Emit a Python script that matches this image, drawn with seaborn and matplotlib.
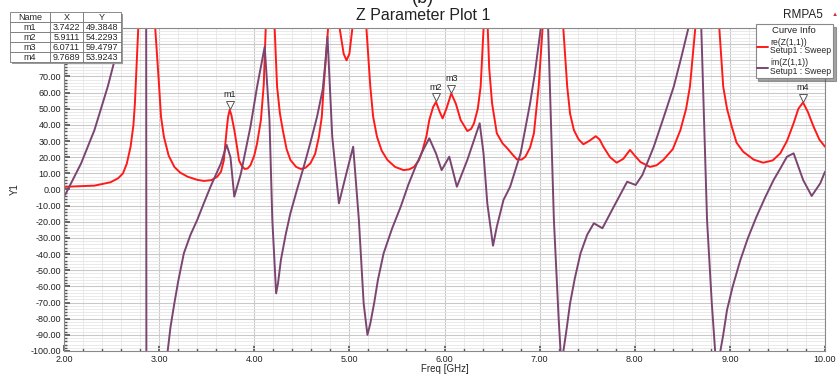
import numpy as np
import pandas as pd
import seaborn as sns
import matplotlib.pyplot as plt
import matplotlib.transforms as mtransforms
from matplotlib.ticker import MultipleLocator, FormatStrFormatter
from matplotlib.lines import Line2D
from matplotlib.patches import Rectangle

# re(Z(1,1)) (values above 100 are clipped peaks)
freq_re = [2.00, 2.02, 2.32, 2.49, 2.57, 2.62, 2.66, 2.70, 2.73, 2.745, 2.78, 2.86,
           2.96, 3.00, 3.02, 3.05, 3.10, 3.16, 3.22, 3.30, 3.40, 3.47, 3.55, 3.61, 3.65,
           3.68, 3.71, 3.725, 3.742, 3.76, 3.79, 3.82, 3.84, 3.87, 3.90, 3.93, 3.96, 4.00,
           4.03, 4.07, 4.10, 4.12, 4.16, 4.215, 4.24, 4.27, 4.30, 4.34, 4.38, 4.44, 4.49,
           4.54, 4.59, 4.64, 4.68, 4.71, 4.73, 4.775, 4.83, 4.90, 4.94, 4.97, 5.00, 5.03,
           5.10, 5.18, 5.22, 5.25, 5.29, 5.34, 5.40, 5.48, 5.57, 5.63, 5.68, 5.73, 5.77,
           5.81, 5.84, 5.88, 5.911, 5.95, 5.98, 6.02, 6.071, 6.12, 6.17, 6.24, 6.28, 6.31,
           6.35, 6.38, 6.41, 6.435, 6.455, 6.47, 6.50, 6.55, 6.61, 6.66, 6.71, 6.76, 6.81,
           6.85, 6.90, 6.94, 6.99, 7.03, 7.14, 7.25, 7.29, 7.32, 7.36, 7.41, 7.46, 7.52,
           7.59, 7.63, 7.67, 7.74, 7.81, 7.88, 7.95, 8.00, 8.06, 8.16, 8.23, 8.30, 8.40,
           8.48, 8.54, 8.58, 8.635, 8.76, 8.89, 8.93, 8.97, 9.02, 9.07, 9.14, 9.25, 9.35,
           9.45, 9.53, 9.60, 9.67, 9.72, 9.769, 9.82, 9.88, 9.94, 10.00]
re_z = [1.5, 1.7, 2.4, 4.5, 7.0, 10.0, 16.0, 26.5, 40.0, 53.0, 99.0, 400.0,
        99.0, 63.7, 45.0, 32.7, 21.0, 14.0, 10.5, 7.9, 6.0, 5.3, 5.8, 7.9, 11.0,
        18.0, 37.0, 45.0, 49.4, 46.0, 37.0, 26.0, 18.0, 14.5, 12.7, 13.0, 15.0, 21.0,
        28.6, 43.0, 65.0, 99.0, 400.0, 99.0, 63.7, 47.0, 36.8, 25.0, 18.3, 14.0, 12.7,
        13.5, 16.2, 22.0, 32.7, 45.0, 63.7, 99.0, 300.0, 99.0, 84.0, 80.0, 84.0, 99.0,
        300.0, 99.0, 63.7, 45.0, 32.7, 24.0, 18.3, 14.0, 12.0, 12.5, 14.0, 18.0, 24.5,
        33.0, 43.0, 51.0, 54.2, 48.0, 44.0, 50.0, 59.5, 53.0, 43.0, 36.2, 37.5, 41.0,
        50.0, 63.7, 99.0, 300.0, 99.0, 75.0, 53.4, 34.8, 28.6, 25.5, 22.0, 18.7, 18.5,
        20.3, 26.0, 34.8, 63.7, 99.0, 400.0, 99.0, 63.7, 47.0, 36.8, 31.0, 28.0, 30.0,
        33.0, 31.0, 26.5, 20.0, 16.6, 19.0, 24.5, 21.0, 17.0, 14.0, 15.0, 18.3, 25.0,
        36.8, 50.0, 63.7, 99.0, 400.0, 99.0, 63.7, 50.0, 38.9, 29.0, 23.4, 18.5, 16.6,
        18.0, 22.4, 30.0, 41.0, 50.0, 53.9, 48.0, 38.9, 31.0, 26.5]

# im(Z(1,1)) (values beyond +-100 are clipped)
freq_im = [2.00, 2.02, 2.18, 2.32, 2.46, 2.56, 2.60, 2.70, 2.86, 2.87, 2.98, 3.09, 3.12,
           3.16, 3.20, 3.26, 3.33, 3.40, 3.47, 3.54, 3.65, 3.71, 3.75, 3.79, 3.86, 3.96,
           4.03, 4.11, 4.16, 4.19, 4.23, 4.25, 4.28, 4.33, 4.38, 4.45, 4.52, 4.59, 4.66,
           4.72, 4.75, 4.77, 4.82, 4.89, 4.96, 5.04, 5.10, 5.15, 5.19, 5.22, 5.26, 5.30,
           5.36, 5.45, 5.54, 5.62, 5.71, 5.78, 5.84, 5.91, 5.97, 6.05, 6.13, 6.24, 6.37,
           6.41, 6.45, 6.51, 6.55, 6.62, 6.69, 6.80, 6.90, 6.95, 7.01, 7.035, 7.06, 7.09,
           7.15, 7.20, 7.235, 7.25, 7.28, 7.32, 7.37, 7.43, 7.50, 7.57, 7.66, 7.78, 7.92,
           8.01, 8.08, 8.20, 8.30, 8.41, 8.49, 8.56, 8.63, 8.70, 8.76, 8.81, 8.845, 8.87,
           8.90, 8.93, 8.97, 9.03, 9.11, 9.19, 9.28, 9.37, 9.46, 9.53, 9.60, 9.67, 9.77,
           9.86, 9.95, 10.00]
im_z = [-4.0, -2.4, 16.2, 36.8, 63.7, 86.4, 99.0, 200.0, 500.0, -500.0, -200.0, -100.0, -85.0,
        -70.5, -57.0, -39.5, -28.0, -18.9, -8.5, 1.7, 16.2, 27.6, 20.0, -4.4, 10.0, 38.9,
        63.7, 88.4, 43.0, -18.9, -64.3, -58.0, -43.7, -28.0, -14.7, 0.0, 14.0, 29.0, 45.0,
        62.0, 80.0, 94.6, 32.7, -8.6, 8.0, 26.5, -18.9, -70.5, -90.0, -83.0, -70.5, -56.0,
        -39.5, -24.0, -10.6, 3.0, 16.2, 25.0, 31.7, 22.4, 12.0, 20.3, 1.7, 18.3, 41.0,
        22.4, -8.6, -34.8, -23.0, -6.5, 1.7, 22.4, 53.4, 72.0, 99.0, 130.0, 150.0, 99.0,
        -18.9, -80.0, -115.0, -100.0, -88.0, -70.5, -55.0, -39.5, -28.0, -20.9, -24.0, -10.6, 4.8,
        2.8, 9.0, 26.5, 44.0, 63.7, 82.0, 99.0, 200.0, 99.0, -18.9, -70.5, -100.0, -115.0,
        -100.0, -90.0, -74.6, -60.0, -43.7, -30.0, -16.8, -5.0, 5.9, 13.0, 20.3, 22.4, 5.9,
        -4.0, 3.8, 11.0]

curve_names = ["re(Z(1,1))", "im(Z(1,1))"]
curve_colors = ["#ff1a1a", "#7a4570"]

marker_names = ["m1", "m2", "m3", "m4"]
marker_x = [3.7422, 5.9111, 6.0711, 9.7689]
marker_y = [49.3848, 54.2293, 59.4797, 53.9243]

df = pd.concat([
    pd.DataFrame({"Freq": freq_re, "Y1": re_z, "curve": curve_names[0]}),
    pd.DataFrame({"Freq": freq_im, "Y1": im_z, "curve": curve_names[1]}),
])

sns.set_theme(style="white")
plt.rcParams["font.family"] = ["Liberation Sans", "DejaVu Sans"]

fig = plt.figure(figsize=(8.4, 3.76), dpi=100)
ax = fig.add_axes([64 / 840, 1 - 351 / 376, 761 / 840, 323 / 376])

sns.lineplot(data=df, x="Freq", y="Y1", hue="curve", palette=curve_colors,
             estimator=None, sort=False, linewidth=1.4, ax=ax, legend=False)

ax.set_xlim(2, 10)
ax.set_ylim(-100, 100)
ax.xaxis.set_major_locator(MultipleLocator(1))
ax.xaxis.set_minor_locator(MultipleLocator(0.2))
ax.yaxis.set_major_locator(MultipleLocator(10))
ax.yaxis.set_minor_locator(MultipleLocator(2))
ax.xaxis.set_major_formatter(FormatStrFormatter("%.2f"))
ax.yaxis.set_major_formatter(FormatStrFormatter("%.2f"))
ax.grid(which="major", color="#c9c9c9", linewidth=0.8)
ax.grid(which="minor", color="#e6e6e6", linewidth=0.6)
ax.set_axisbelow(True)
ax.tick_params(which="both", direction="in", colors="#555555", labelcolor="#222222",
               labelsize=6.5, bottom=True, left=True)
ax.tick_params(axis="x", pad=3)
ax.tick_params(axis="y", pad=2)
ax.tick_params(which="major", length=4)
ax.tick_params(which="minor", length=2)
for s in ax.spines.values():
    s.set_color("#8a8a8a")
    s.set_linewidth(0.8)

ax.set_xlabel("Freq [GHz]", fontsize=7, labelpad=0)
ax.set_ylabel("Y1", fontsize=7, labelpad=8)

# markers on red curve
for name, mx, my in zip(marker_names, marker_x, marker_y):
    tr = mtransforms.offset_copy(ax.transData, fig=fig, x=0, y=3.5, units="points")
    ax.plot([mx], [my], marker="v", markersize=6, markerfacecolor="white",
            markeredgecolor="#555555", markeredgewidth=0.7, transform=tr, zorder=5)
    ax.annotate(name, xy=(mx, my), xytext=(0, 7.5), textcoords="offset points",
                ha="center", va="bottom", fontsize=6.5, color="#222222")

# titles
fig.text(423 / 840, 1 - 15 / 376, "Z Parameter Plot 1", ha="center", va="center", fontsize=11.5,
         color="#222222")
fig.text(423 / 840, 1 - 3 / 376, "(b)", ha="center", va="baseline", fontsize=13, color="#222222")
fig.text(803 / 840, 1 - 15 / 376, "RMPA5", ha="center", va="center", fontsize=8.5, color="#222222")
fig.text(835 / 840, 1 - 15 / 376, "\u25b2", ha="center", va="center", fontsize=4.5, color="#cc3333")

# legend box
handles = [Line2D([0], [0], color=c, lw=1.4) for c in curve_colors]
labels = [n + "\nSetup1 : Sweep" for n in curve_names]
leg = ax.legend(handles, labels, title="Curve Info", loc="upper right",
                bbox_to_anchor=(833 / 840, 1 - 24 / 376), bbox_transform=fig.transFigure,
                fontsize=6.2, title_fontsize=6.8, frameon=True, fancybox=False, shadow=True,
                borderpad=0.2, handlelength=1.3, handletextpad=0.2, labelspacing=0.35,
                borderaxespad=0)
for t in leg.get_texts():
    t.set_linespacing(0.95)
leg.get_title().set_color("#222222")
leg.get_frame().set_edgecolor("#888888")
leg.get_frame().set_linewidth(0.8)
leg.set_zorder(10)

# marker table
fig.patches.append(Rectangle((12 / 840, 1 - 64 / 376), 111 / 840, 50 / 376,
                             transform=fig.transFigure, facecolor="#9a9a9a", edgecolor="none",
                             zorder=8))
tax = fig.add_axes([10 / 840, 1 - 62 / 376, 111 / 840, 50 / 376], zorder=9)
tax.axis("off")
cells = [[n, f"{x:.4f}", f"{y:.4f}"] for n, x, y in zip(marker_names, marker_x, marker_y)]
tbl = tax.table(cellText=cells, colLabels=["Name", "X", "Y"], bbox=[0, 0, 1, 1],
                colWidths=[40, 33, 38], cellLoc="center")
tbl.auto_set_font_size(False)
tbl.set_fontsize(6.5)
for (r, c), cell in tbl.get_celld().items():
    cell.set_edgecolor("#777777")
    cell.set_linewidth(0.6)
    cell.set_facecolor("white")
    cell.PAD = 0.03

fig.savefig("out.png", dpi=100)
